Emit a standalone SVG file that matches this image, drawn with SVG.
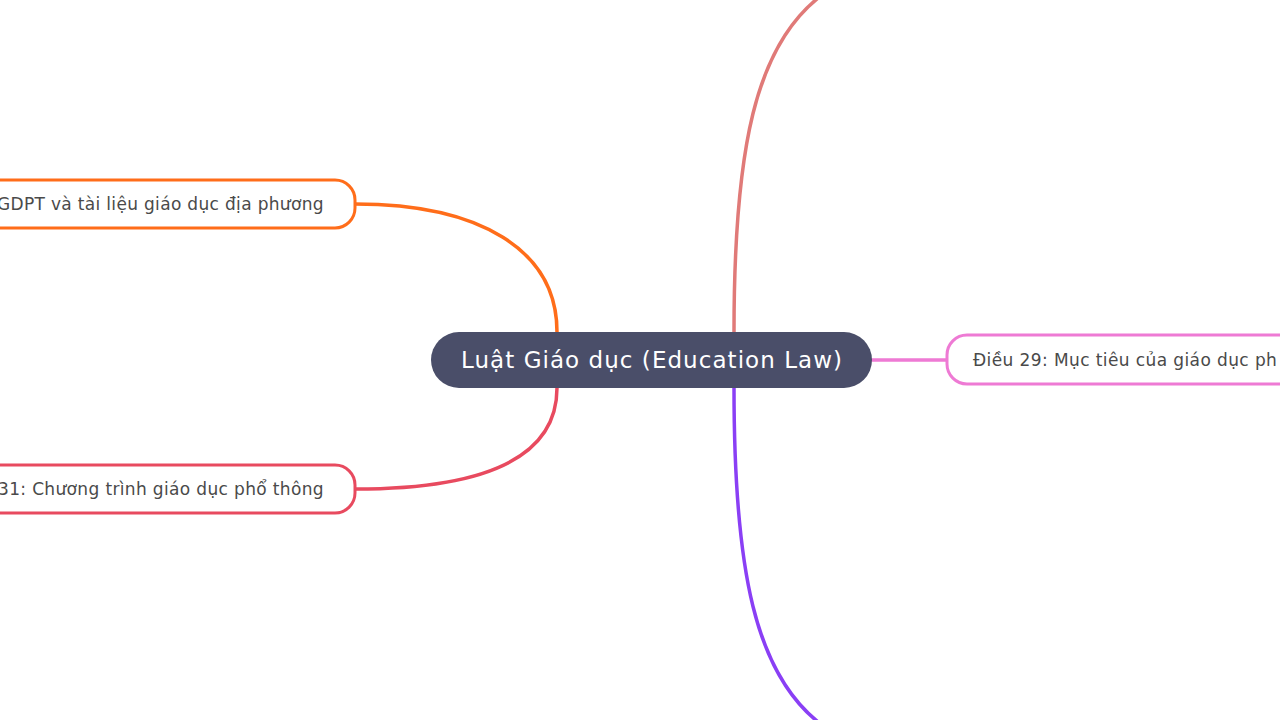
<svg xmlns="http://www.w3.org/2000/svg" width="1280" height="720" viewBox="0 0 1280 720">
<style>
.c{fill:none;stroke-width:3.5;stroke-linecap:round}
.n{fill:#fff;stroke-width:3}
.t{font-family:"DejaVu Sans",sans-serif;font-size:17px;fill:#4a4a4a;letter-spacing:0.4px}
</style>
<rect width="1280" height="720" fill="#fff"/>
<g id="connectors">
<path class="c" stroke="#ff6d1a" d="M557,332 C557,250 480,204 355,204"/>
<path class="c" stroke="#e84a5f" d="M557,388 C557,455 490,489 355,489"/>
<path class="c" stroke="#ee7ad4" d="M872,360 L947,360"/>
<path class="c" stroke="#e07a78" d="M734,332 C734,150 755,45 822,-5"/>
<path class="c" stroke="#8a3ff5" d="M734,388 C734,570 755,675 822,725"/>
</g>
<g id="node-center">
<rect x="431" y="332" width="441" height="56" rx="28" fill="#4a4e69"/>
<text x="651.5" y="368" text-anchor="middle" font-family="DejaVu Sans, sans-serif" font-size="23" fill="#fff" textLength="381" lengthAdjust="spacing">Luật Giáo dục (Education Law)</text>
</g>
<g id="node-left-top">
<rect class="n" x="-300" y="180" width="655" height="48" rx="20" stroke="#ff6d1a"/>
<text class="t" x="324" y="210" text-anchor="end" textLength="327" lengthAdjust="spacing">GDPT và tài liệu giáo dục địa phương</text>
</g>
<g id="node-left-bottom">
<rect class="n" x="-300" y="465" width="655" height="48" rx="20" stroke="#e84a5f"/>
<text class="t" x="324" y="495" text-anchor="end" textLength="326" lengthAdjust="spacing">31: Chương trình giáo dục phổ thông</text>
</g>
<g id="node-right">
<rect class="n" x="947" y="335" width="600" height="49" rx="20" stroke="#ee7ad4"/>
<text class="t" x="973" y="366">Điều 29: Mục tiêu của giáo dục ph</text>
</g>
</svg>
